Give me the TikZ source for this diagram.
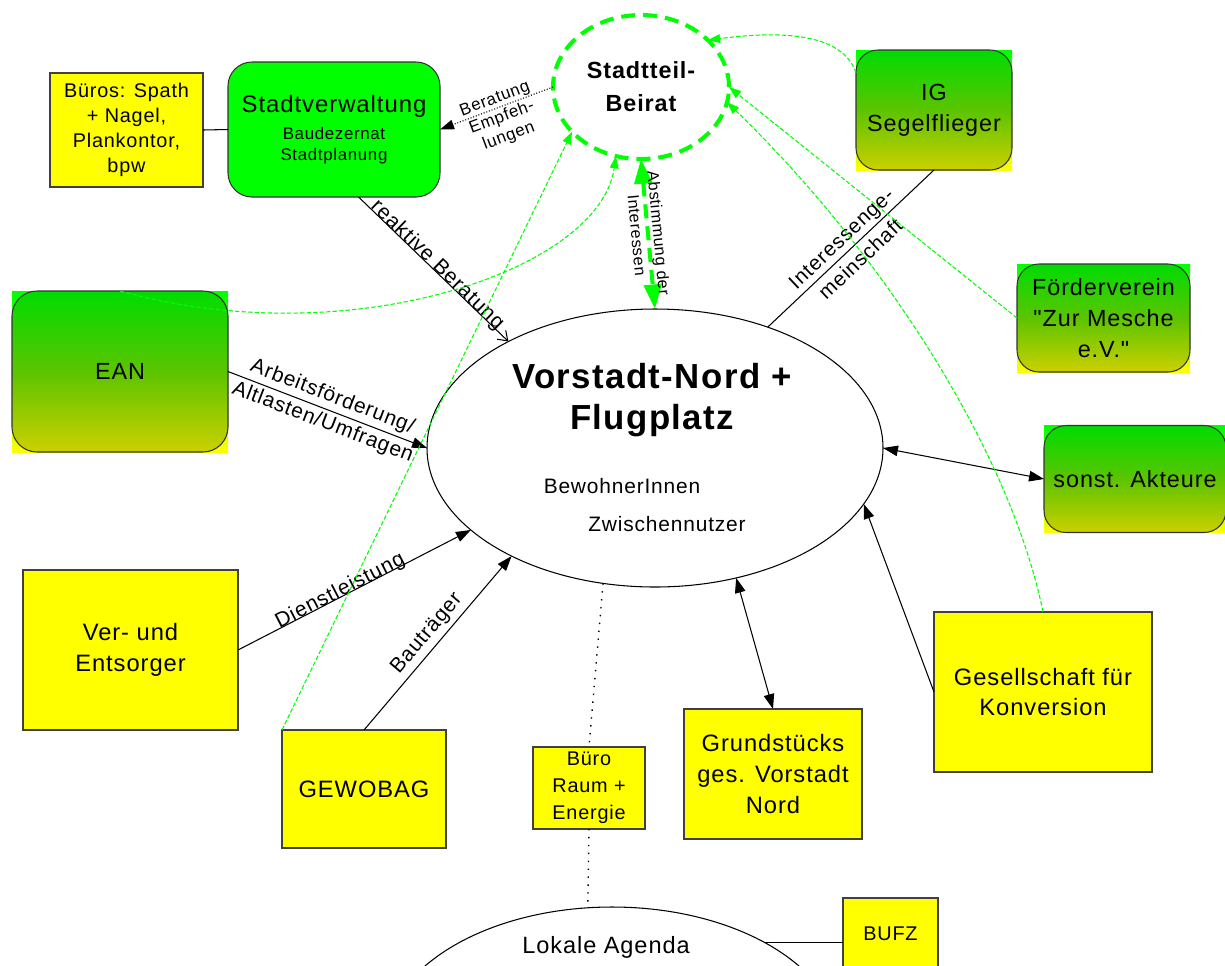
\documentclass[tikz,border=0pt]{standalone}
\usepackage{fontspec}
\setmainfont{Liberation Sans}[LetterSpace=4, Ligatures=TeXOff]
\usetikzlibrary{arrows.meta,shapes.geometric,calc}
\definecolor{gbright}{HTML}{00FF00}
\definecolor{ybright}{HTML}{FFFF00}
\definecolor{gtop}{HTML}{00DC00}
\definecolor{gmid}{HTML}{5CC400}
\definecolor{gbot}{HTML}{CCD000}
\newcommand\myfs[2]{\fontsize{#1pt}{#2pt}\selectfont}
\begin{document}
\begin{tikzpicture}[x=0.02cm,y=-0.02cm,
 base/.style={inner sep=0pt, outer sep=0pt, align=center},
 wh/.style 2 args={minimum width=#1*0.02cm, minimum height=#2*0.02cm},
 ybox/.style={base, draw=black!75, line width=0.6pt, fill=ybright, font=\myfs{13.5}{17.6}},
 gback/.style={base, top color=gbright, bottom color=ybright, draw=none},
 gbox/.style={base, draw=black!80, line width=0.6pt, rounded corners=0.44cm, top color=gtop, bottom color=gbot, middle color=gmid, font=\myfs{13.3}{17.6}},
 conn/.style={line width=0.6pt},
 barrow/.style={conn, -{Triangle[length=8.5pt,width=6pt]}},
 dblarrow/.style={conn, {Triangle[length=8.5pt,width=6pt]}-{Triangle[length=8.5pt,width=6pt]}},
 dotline/.style={line width=0.8pt, dash pattern=on 0.8pt off 3.7pt},
 gdash/.style={draw=gbright, line width=0.6pt, dash pattern=on 2.5pt off 1.2pt, -{Triangle[length=7pt,width=5pt]}},
 gthick/.style={draw=gbright, line width=2.3pt, dash pattern=on 8pt off 4.5pt},
 lab/.style={base, font=\myfs{11.9}{15.5}}
]
\useasboundingbox[fill=white] (0,0) rectangle (1225,965);

% boxes
\node[ybox, wh={153}{114}, font=\myfs{11.3}{14.2}] (buros) at (126.5,130) {Büros: Spath\\+ Nagel,\\Plankontor,\\bpw};
\node[base, draw=black!80, line width=0.6pt, fill=gbright, rounded corners=0.48cm, wh={212}{135}] (stadtv) at (334,129.5)
  {\myfs{13.6}{16}Stadtverwaltung\\[3pt]\myfs{9.6}{12}Baudezernat\\\myfs{9.6}{12}Stadtplanung};
\node[base, ellipse, gthick, wh={176}{144}, font=\bfseries\myfs{13.3}{18.7}] (beirat) at (641,87) {Stadtteil-\\Beirat};

\node[base, ellipse, draw, line width=0.6pt, wh={456}{278}] (main) at (655,448) {};
\node[base, font=\bfseries\myfs{19.8}{23.8}] (maintitle) at (652,400) {Vorstadt-Nord +\\Flugplatz};
\node[base, font=\myfs{11.9}{14}] (bew) at (622,486) {BewohnerInnen};
\node[base, font=\myfs{11.9}{14}] (zw) at (667,524) {Zwischennutzer};

\node[gback, wh={156}{120}] (igbg) at (934,110) {};
\node[gbox, wh={156}{120}] (ig) at (934,110) {IG\\Segelflieger};
\node[gback, wh={173}{108}] (foerdbg) at (1103.5,318) {};
\node[gbox, wh={173}{108}] (foerd) at (1103.5,318) {Förderverein\\"Zur Mesche\\e.V."};
\node[gback, wh={216}{161}] (eanbg) at (120,371.5) {};
\node[gbox, rounded corners=0.5cm, wh={216}{161}] (ean) at (120,371.5) {EAN};
\node[gback, wh={182}{107}] (sonstbg) at (1135,479) {};
\node[gbox, wh={182}{107}] (sonst) at (1135,479) {sonst. Akteure};

\node[ybox, wh={218}{160}] (ges) at (1043,692) {Gesellschaft für\\Konversion};
\node[ybox, wh={178}{130}] (grund) at (773,774) {Grundstücks\\ges. Vorstadt\\Nord};
\node[ybox, wh={112}{82}, font=\myfs{11.3}{15.3}] (buero) at (589,788) {Büro\\Raum +\\Energie};
\node[ybox, wh={164}{118}] (gewobag) at (364,789) {GEWOBAG};
\node[ybox, wh={215}{160}] (verent) at (130.5,650) {Ver- und\\Entsorger};
\node[base, ellipse, draw, line width=0.6pt, wh={456}{276}] (lokale) at (612,1045) {};
\node[base, font=\myfs{13.4}{16}] (lokaletext) at (606,947) {Lokale Agenda};
\node[ybox, wh={95}{72}, font=\myfs{11.3}{14}] (bufz) at (890.5,934) {BUFZ};

% black connectors
\draw[conn] (buros.east) -- (stadtv.west);
\draw[conn, densely dotted, -{Triangle[length=8pt,width=5.5pt]}] (beirat.west) -- (stadtv.east);
\node[base, rotate=20.6, font=\myfs{9.6}{11.3}] (berlab) at (502,118) {Beratung\\Empfeh-\\lungen};
\draw[conn, -{Straight Barb[length=5pt,width=7pt]}] (stadtv.290) -- node[lab, sloped, above=-2.4pt] {reaktive Beratung} (main.144);
\draw[barrow] (ean.east) -- node[lab, sloped] {Arbeitsförderung/\\Altlasten/Umfragen} (main.west);
\draw[barrow] (verent.east) -- node[lab, sloped, above=-2.4pt, pos=0.45] {Dienstleistung} (main.204);
\draw[barrow] (gewobag.north) -- node[lab, sloped, above=2.7pt] {Bauträger} (main.217);
\draw[conn] (main.47) -- node[lab, sloped, font=\myfs{11.7}{16}] {Interessenge-\\meinschaft} (ig.south);
\draw[dblarrow] (main.east) -- (sonst.west);
\draw[barrow] (ges.west) -- (main.345);
\draw[dblarrow] (main.302) -- (grund.north);
\draw[dotline] (main.249) -- (buero.north);
\draw[dotline] (buero.south) -- (lokale.100);
\draw[conn] (lokale.34) -- (lokale.34 -| bufz.west);

% green connectors
\draw[gthick, {Triangle[length=14pt,width=10pt]}-{Triangle[length=14pt,width=10pt]}] (beirat.south) -- node[base, sloped, font=\myfs{9.2}{12.5}] {Abstimmung der\\Interessen} (main.north);
\draw[gdash] ($(ig.north west)+(0,23)$) .. controls (845,40) and (800,28) .. (beirat.35);
\draw[gdash] (foerd.west) -- (beirat.east);
\draw[gdash] (ges.north) .. controls (1010,450) and (880,250) .. (beirat.350);
\draw[gdash] (gewobag.north west) -- (beirat.213);
\draw[gdash] (ean.north) .. controls (350,355) and (600,270) .. (beirat.250);
\end{tikzpicture}
\end{document}
